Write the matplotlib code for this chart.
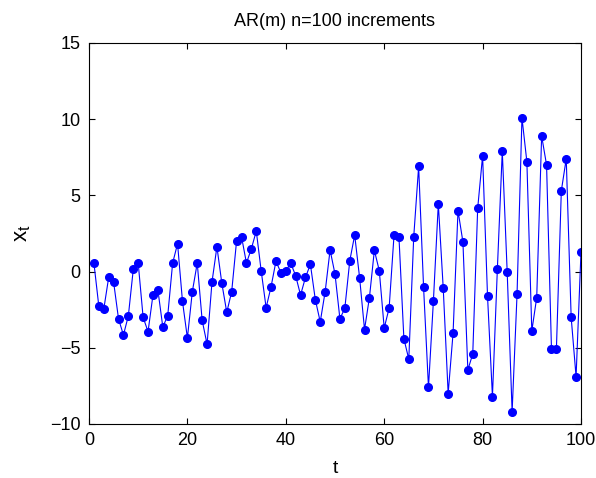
import numpy as np
import matplotlib
matplotlib.use('Agg')
from matplotlib import pyplot as plt

t = np.arange(1, 101)
x = [0.56, -2.28, -2.47, -0.38, -0.68, -3.1, -4.16, -2.9, 0.15, 0.56,
     -3.0, -3.94, -1.54, -1.2, -3.63, -2.9, 0.56, 1.83, -1.95, -4.36,
     -1.32, 0.56, -3.2, -4.77, -0.68, 1.63, -0.77, -2.67, -1.32, 2.03,
     2.29, 0.56, 1.5, 2.66, 0.04, -2.37, -1.0, 0.68, -0.07, 0.04,
     0.56, -0.27, -1.54, -0.38, 0.48, -1.84, -3.3, -1.32, 1.42, -0.16,
     -3.1, -2.4, 0.7, 2.4, -0.4, -3.8, -1.7, 1.4, 0.06, -3.7,
     -2.4, 2.4, 2.27, -4.4, -5.75, 2.27, 6.9, -1.0, -7.6, -1.93,
     4.45, -1.1, -8.0, -4.03, 4.0, 1.95, -6.45, -5.4, 4.15, 7.6,
     -1.6, -8.2, 0.16, 7.9, -0.05, -9.2, -1.5, 10.1, 7.2, -3.9,
     -1.7, 8.9, 7.0, -5.1, -5.1, 5.3, 7.4, -3.0, -6.9, 1.3]

plt.rcParams['font.family'] = ['Liberation Sans', 'DejaVu Sans']

fig = plt.figure(figsize=(5.96, 4.78), dpi=100)
ax = fig.add_axes([89/596, 1 - 424/478, (581-89)/596, (424-43)/478])
ax.plot(t, x, '-o', color='#0000ff', lw=0.8, ms=5.5)
ax.set_xlim(0, 100)
ax.set_ylim(-10, 15)
ax.set_xticks([0, 20, 40, 60, 80, 100])
ax.set_yticks([-10, -5, 0, 5, 10, 15])
ax.tick_params(direction='in', labelsize=13, length=4, top=True, right=True, pad=6)
ax.set_title('AR(m) n=100 increments', fontsize=13, pad=12)
ax.set_xlabel('t', fontsize=14, labelpad=8)
ax.set_ylabel('$\\mathregular{x_t}$', fontsize=16, labelpad=12)
plt.savefig('out.png', dpi=100)
